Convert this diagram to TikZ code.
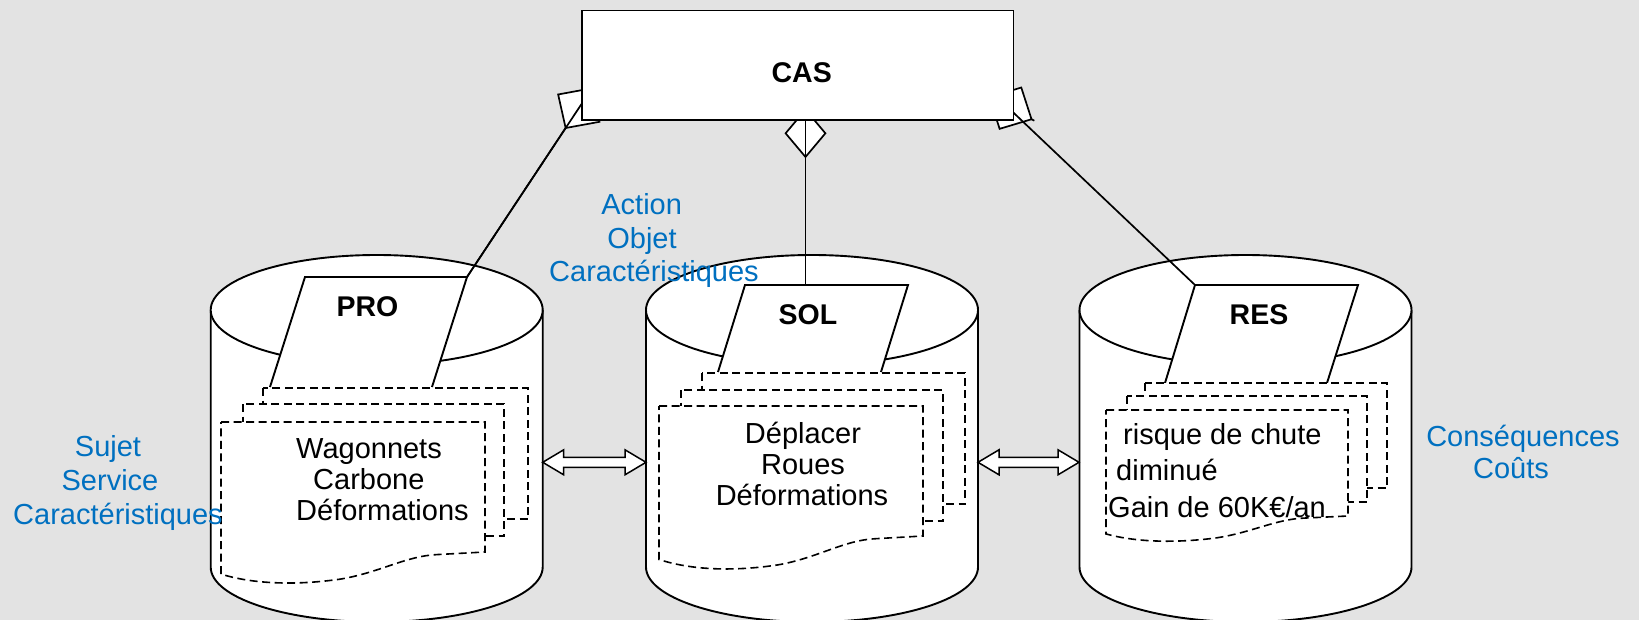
\documentclass[tikz,border=0pt]{standalone}
\usepackage{fontspec}
\setmainfont{Liberation Sans}
\usetikzlibrary{arrows.meta,calc}
\definecolor{bggray}{RGB}{227,227,227}
\definecolor{noteblue}{RGB}{0,112,192}

\tikzset{
  outline/.style={draw=black, line width=1.9pt, fill=white},
  sheet/.style={draw=black, line width=1.6pt, fill=white, dash pattern=on 8pt off 4.5pt},
  link/.style={draw=black, line width=1.7pt},
  bodytext/.style={font=\fontsize{29}{31}\selectfont, inner sep=0pt},
  titletext/.style={font=\fontsize{28.5}{30}\selectfont\bfseries, inner sep=0pt},
  notetext/.style={font=\fontsize{29}{33}\selectfont, text=noteblue, inner sep=0pt},
  agg/.style={-{Diamond[fill=white,length=50pt,width=#1]}},
}

% cylinder: centre x of the drum
\newcommand\drum[1]{%
  \path[outline] ({#1-166},310) -- ({#1-166},567)
    arc[start angle=180,end angle=360,x radius=166pt,y radius=55pt] -- ({#1+166},310);
  \draw[outline] (#1,310) ellipse[x radius=166pt,y radius=55pt];
}

% front page of a stack: left, top, right, bottom-right, wave depth
\newcommand\frontsheet[5]{%
  \draw[sheet] (#1,#2) -- (#3,#2) -- (#3,#4)
    -- ({#1+0.82*(#3-#1)},{#4+0.08*#5})
    .. controls ({#1+0.7*(#3-#1)},{#4+0.12*#5}) and ({#1+0.6*(#3-#1)},{#4+0.65*#5})
    .. ({#1+0.45*(#3-#1)},{#4+0.85*#5})
    .. controls ({#1+0.28*(#3-#1)},{#4+1.05*#5}) and ({#1+0.12*(#3-#1)},{#4+#5})
    .. (#1,{#4+0.69*#5}) -- cycle;
}

% open double arrow between two points on the same height
\newcommand\dblarrow[2]{%
  \draw[outline,line width=1.5pt] (#1) -- ($(#1)+(21,-12.5)$) -- ($(#1)+(21,-5)$)
    -- ($(#2)+(-21,-5)$) -- ($(#2)+(-21,-12.5)$) -- (#2)
    -- ($(#2)+(-21,12.5)$) -- ($(#2)+(-21,5)$) -- ($(#1)+(21,5)$)
    -- ($(#1)+(21,12.5)$) -- cycle;
}

\begin{document}
\begin{tikzpicture}[x=1pt,y=-1pt]
\useasboundingbox (0,0) rectangle (1639,620);
\fill[bggray] (0,0) rectangle (1639,620);
\clip (0,0) rectangle (1639,620);

% ---- PRO store ----
\drum{376.7}
\coordinate (proTL) at (305,277);
\coordinate (proTR) at (467,277);
\coordinate (proBR) at (432,387);
\coordinate (proBL) at (270,387);
\draw[outline] (proBL) -- (proTL) -- (proTR) -- (proBR);
\node[titletext] (pro) at (367.5,306.7) {PRO};
\draw[sheet] (263,388) rectangle (528,519);
\draw[sheet] (243,404) rectangle (504,536);
\frontsheet{221}{422}{485}{552}{32}
\node[bodytext,anchor=base west] (pro1) at (296,458) {Wagonnets};
\node[bodytext,anchor=base west] (pro2) at (313,489) {Carbone};
\node[bodytext,anchor=base west] (pro3) at (296,520) {Déformations};

% ---- SOL store ----
\drum{812}
\coordinate (solTL) at (745,285);
\coordinate (solTR) at (908,285);
\coordinate (solBR) at (881,372);
\coordinate (solBL) at (718,372);
\coordinate (solTop) at (805.5,285);
\draw[outline] (solBL) -- (solTL) -- (solTR) -- (solBR);
\node[titletext] (sol) at (808,315) {SOL};
\draw[sheet] (702,373) rectangle (965,504);
\draw[sheet] (681,390) rectangle (943,521);
\frontsheet{659}{406}{923}{536}{34}
\node[bodytext,anchor=base] (sol1) at (803,443) {Déplacer};
\node[bodytext,anchor=base] (sol2) at (803,474) {Roues};
\node[bodytext,anchor=base] (sol3) at (802,505) {Déformations};

% ---- RES store ----
\drum{1245.5}
\coordinate (resTL) at (1195,285);
\coordinate (resTR) at (1358,285);
\coordinate (resBR) at (1327,383);
\coordinate (resBL) at (1165,383);
\draw[outline] (resBL) -- (resTL) -- (resTR) -- (resBR);
\node[titletext] (res) at (1259,315) {RES};
\draw[sheet] (1145,383) rectangle (1387,488);
\draw[sheet] (1127,396) rectangle (1367,502);
\frontsheet{1106}{410}{1348}{516}{26}
\node[bodytext,anchor=base west] (res1) at (1123,444) {risque de chute};
\node[bodytext,anchor=base west] (res2) at (1116,480.7) {diminué};
\node[bodytext,anchor=base west] (res3) at (1108,517.3) {Gain de 60K€/an};

% ---- exchanges between stores ----
\coordinate (proE) at (542.7,462.3);
\coordinate (solW) at (646,462.3);
\coordinate (solE) at (978,462.3);
\coordinate (resW) at (1079,462.3);
\dblarrow{proE}{solW}
\dblarrow{solE}{resW}

% ---- aggregation links to CAS ----
\coordinate (aggPro) at (592.6,87.3);
\coordinate (aggSol) at (805.5,108.3);
\coordinate (resTip) at (1034.3,120.7);
\coordinate (aggRes) at (988.3,96.6);
\coordinate (resEnd) at (1004,103.7);
\draw[link,agg=52pt] (proTR) -- (aggPro);
\draw[link] (proTR) -- (aggPro);
\draw[link,agg=42pt] (solTop) -- (aggSol);
\draw[link] (solTop) -- (aggSol);
\draw[link,agg=49pt] (resTip) -- (aggRes);
\draw[link] (resTL) -- (resEnd);

% ---- CAS ----
\node[outline,minimum width=431.8pt,minimum height=109.5pt,inner sep=0pt] (cas) at (797.6,65.25) {};
\node[titletext] (castitle) at (801.7,73) {CAS};

% ---- side notes ----
\node[notetext,anchor=base] (n11) at (108,456.7) {Sujet};
\node[notetext,anchor=base] (n12) at (110,490.7) {Service};
\node[notetext,anchor=base] (n13) at (118,524) {Caractéristiques};
\node[notetext,anchor=base] (n21) at (641.7,215) {Action};
\node[notetext,anchor=base] (n22) at (642,248.3) {Objet};
\node[notetext,anchor=base] (n23) at (654,281.7) {Caractéristiques};
\node[notetext,anchor=base] (n31) at (1523,446) {Conséquences};
\node[notetext,anchor=base] (n32) at (1511,478.3) {Coûts};
\end{tikzpicture}
\end{document}
